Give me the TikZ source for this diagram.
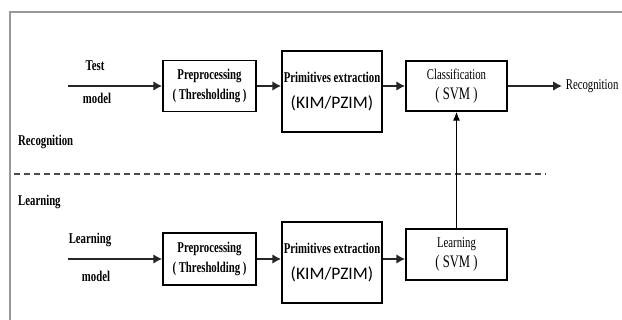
\documentclass[tikz,border=0pt]{standalone}
\usepackage{fontspec}
\setmainfont[FakeStretch=0.72]{Liberation Serif}
\newfontfamily\kimfont{Carlito}
\usepackage{tikz}
\usetikzlibrary{arrows.meta}
\usetikzlibrary{positioning}
\tikzstyle{arr}=[-{Latex[length=5pt,width=5.5pt]},draw=black!85,line width=1.6pt]
\tikzstyle{thinarr}=[-{Latex[length=5pt,width=4pt]},draw=black,line width=0.6pt]
\tikzstyle{blk}=[rectangle,draw=black,line width=1pt,align=center,inner sep=1pt]

\begin{document}
\begin{tikzpicture}[x=0.02cm,y=-0.02cm,font=\fontsize{8.5}{10}\selectfont\bfseries]
    \useasboundingbox (0,0) rectangle (622,320);
    % frame and separator
    \draw[gray!80,line width=0.6pt] (10,320) -- (10,12) -- (622,12);
    \draw[black!70,line width=0.9pt,dash pattern=on 3.4pt off 2.3pt] (14,174) -- (545,174);
    \node[anchor=west] (recog) at (12,142) {Recognition};
    \node[anchor=west] (learn) at (12,202) {Learning};
    % recognition branch
    \coordinate (tin) at (68,86);
    \node (testl) at (95,66) {Test};
    \node (testm) at (97,98) {model};
    \node[blk,minimum width=1.86cm,minimum height=1.02cm] (pre1) at (209.5,86) {Preprocessing\\[1pt]( Thresholding )};
    \node[blk,minimum width=1.88cm,minimum height=1.62cm] (prim1) at (332,91.5) {Primitives extraction\\[5pt]{\kimfont\mdseries\fontsize{10}{12}\selectfont (KIM/PZIM)}};
    \node[blk,minimum width=2.02cm,minimum height=1.0cm] (cls) at (456.5,86) {\mdseries Classification\\[1pt]{\mdseries\fontsize{10}{12}\selectfont ( SVM )}};
    \node[anchor=west,inner sep=2pt,font=\fontsize{8.5}{10}\selectfont\mdseries] (recout) at (562,86) {Recognition};
    \draw[arr] (tin) -- (pre1);
    \draw[arr] (pre1) -- (prim1.west |- pre1);
    \draw[arr] (prim1.east |- cls) -- (cls);
    \draw[arr] (cls) -- (recout);
    % learning branch
    \coordinate (lin) at (68,259);
    \node (learnl) at (90,240) {Learning};
    \node (learnm) at (96,276) {model};
    \node[blk,minimum width=1.86cm,minimum height=1.04cm] (pre2) at (209.5,259) {Preprocessing\\[1pt]( Thresholding )};
    \node[blk,minimum width=1.88cm,minimum height=1.62cm] (prim2) at (332,262.5) {Primitives extraction\\[5pt]{\kimfont\mdseries\fontsize{10}{12}\selectfont (KIM/PZIM)}};
    \node[blk,minimum width=2.02cm,minimum height=1.02cm] (lsvm) at (456.5,254.5) {\mdseries Learning\\[1pt]{\mdseries\fontsize{10}{12}\selectfont ( SVM )}};
    \draw[arr] (lin) -- (pre2);
    \draw[arr] (pre2) -- (prim2.west |- pre2);
    \draw[arr] (prim2.east |- pre2) -- (lsvm.west |- pre2);
    \draw[thinarr] (lsvm.north) -- (cls.south);
\end{tikzpicture}
\end{document}
